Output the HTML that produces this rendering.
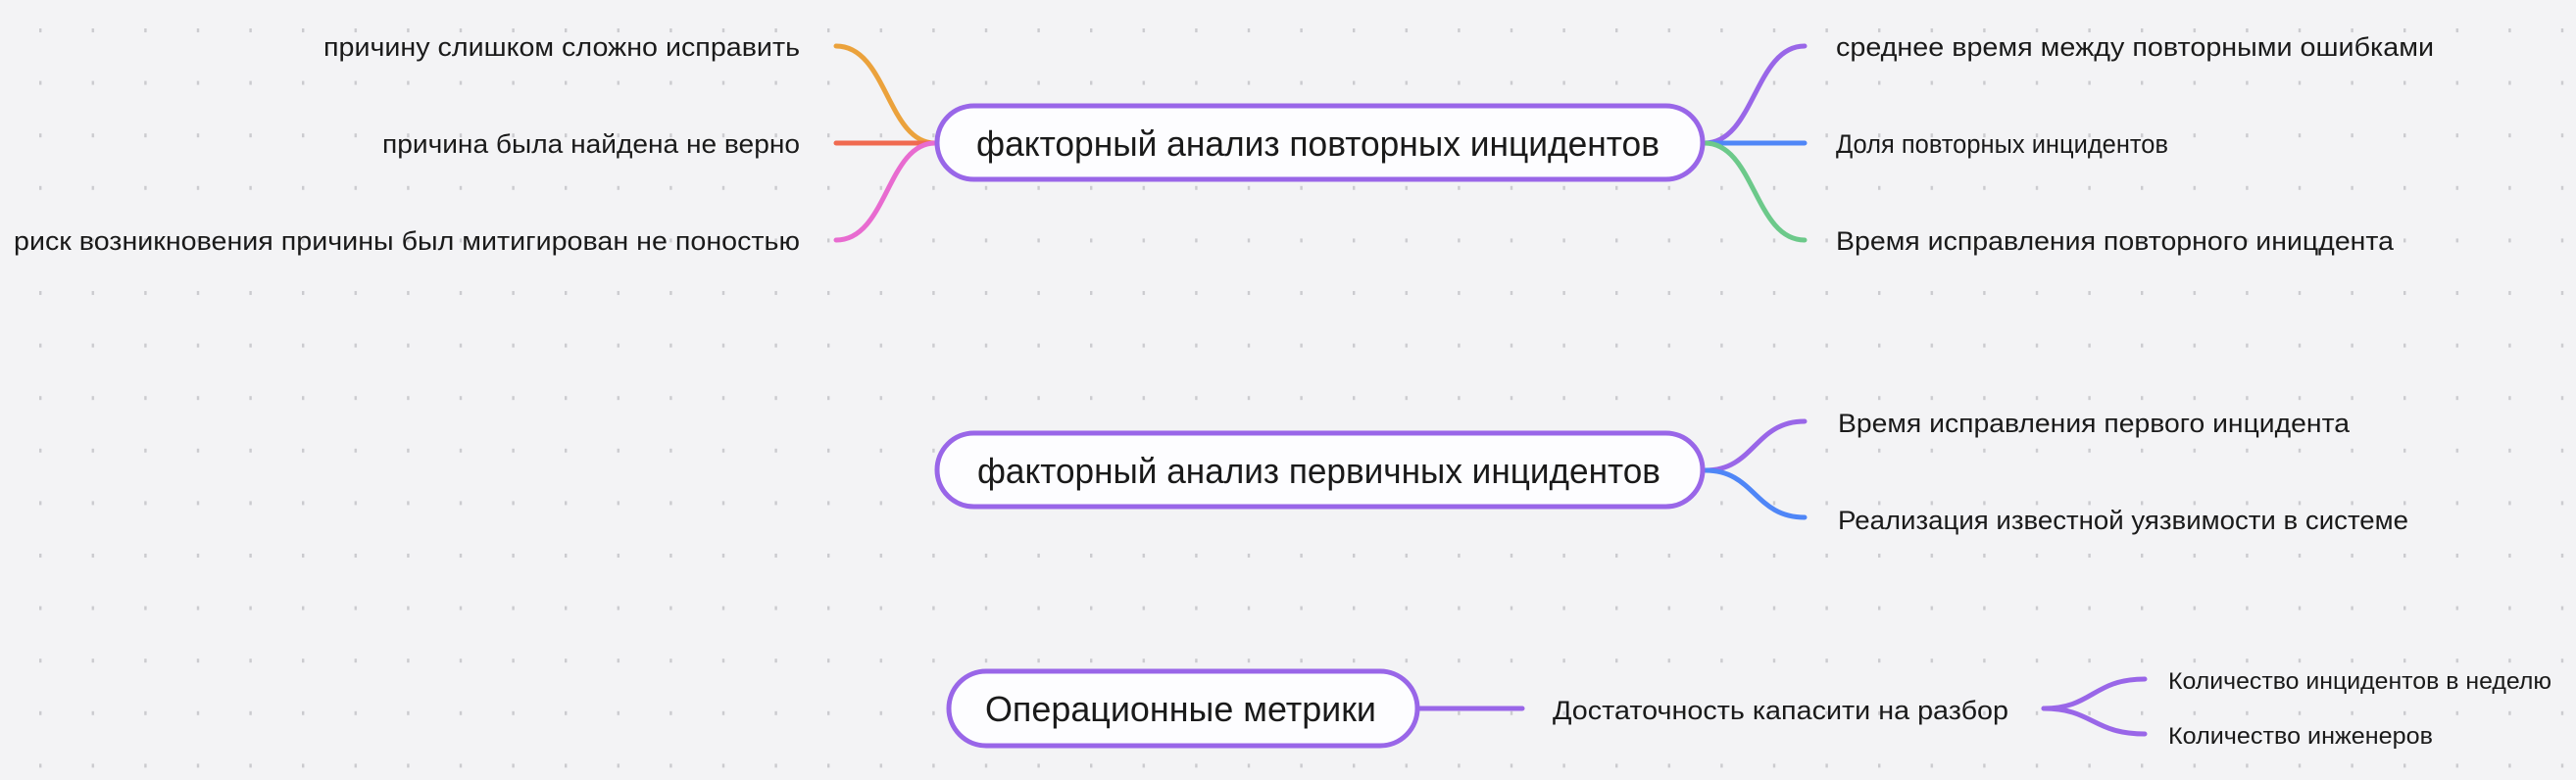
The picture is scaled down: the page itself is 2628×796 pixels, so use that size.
<!DOCTYPE html>
<html><head><meta charset="utf-8"><style>
html,body{margin:0;padding:0;background:#f3f3f5;}
svg{display:block;}
text{font-family:"Liberation Sans","DejaVu Sans",sans-serif;fill:#1a1a1a;}
</style></head><body>
<svg width="2628" height="796" viewBox="0 0 2628 796" xmlns="http://www.w3.org/2000/svg">
<defs>
<pattern id="dots" x="40" y="29" width="53.6" height="53.6" patternUnits="userSpaceOnUse">
<rect x="0" y="0" width="2.4" height="4" fill="#cbcbcf"/>
</pattern>
</defs>
<rect width="2628" height="796" fill="#f3f3f5"/>
<rect width="2628" height="796" fill="url(#dots)"/>

<g fill="none" stroke-width="5" stroke-linecap="round">
<path d="M954 146 C905 146 905 47 853 47" stroke="#eba23c"/>
<path d="M954 146 L853 146" stroke="#f06a50"/>
<path d="M954 146 C905 146 905 245 853 245" stroke="#e86bd0"/>
<path d="M1739 146 C1790 146 1790 47 1841 47" stroke="#9966e8"/>
<path d="M1739 146 L1841 146" stroke="#4f86f7"/>
<path d="M1739 146 C1790 146 1790 245 1841 245" stroke="#6cc98a"/>
<path d="M1740 480 C1790 480 1790 430 1841 430" stroke="#9966e8"/>
<path d="M1740 480 C1790 480 1790 528 1841 528" stroke="#4f86f7"/>
<path d="M1448 723 L1553 723" stroke="#9966e8"/>
<path d="M2085 723 C2135 723 2135 693 2188 693" stroke="#9966e8"/>
<path d="M2085 723 C2135 723 2135 749 2188 749" stroke="#9966e8"/>
</g>

<rect x="956" y="108" width="781" height="75" rx="37.5" fill="#fdfdff" stroke="#9966e8" stroke-width="5"/>
<rect x="956" y="442" width="781" height="75" rx="37.5" fill="#fdfdff" stroke="#9966e8" stroke-width="5"/>
<rect x="968" y="685" width="478" height="76" rx="38" fill="#fdfdff" stroke="#9966e8" stroke-width="5"/>

<g font-size="36" lengthAdjust="spacingAndGlyphs">
<text x="996" y="159" textLength="697" lengthAdjust="spacingAndGlyphs">факторный анализ повторных инцидентов</text>
<text x="997" y="493" textLength="697" lengthAdjust="spacingAndGlyphs">факторный анализ первичных инцидентов</text>
<text x="1005" y="736" textLength="399" lengthAdjust="spacingAndGlyphs">Операционные метрики</text>
</g>

<g font-size="27">
<text x="330" y="57" textLength="486" lengthAdjust="spacingAndGlyphs">причину слишком сложно исправить</text>
<text x="390" y="156" textLength="426" lengthAdjust="spacingAndGlyphs">причина была найдена не верно</text>
<text x="14" y="255" textLength="802" lengthAdjust="spacingAndGlyphs">риск возникновения причины был митигирован не поностью</text>
<text x="1873" y="57" textLength="610" lengthAdjust="spacingAndGlyphs">среднее время между повторными ошибками</text>
<text x="1873" y="156" textLength="339" lengthAdjust="spacingAndGlyphs">Доля повторных инцидентов</text>
<text x="1873" y="255" textLength="569" lengthAdjust="spacingAndGlyphs">Время исправления повторного иницдента</text>
<text x="1875" y="441" textLength="522" lengthAdjust="spacingAndGlyphs">Время исправления первого инцидента</text>
<text x="1875" y="540" textLength="582" lengthAdjust="spacingAndGlyphs">Реализация известной уязвимости в системе</text>
<text x="1584" y="734" textLength="465" lengthAdjust="spacingAndGlyphs">Достаточность капасити на разбор</text>
</g>
<g font-size="24">
<text x="2212" y="703" textLength="391" lengthAdjust="spacingAndGlyphs">Количество инцидентов в неделю</text>
<text x="2212" y="759" textLength="270" lengthAdjust="spacingAndGlyphs">Количество инженеров</text>
</g>
</svg>
</body></html>
